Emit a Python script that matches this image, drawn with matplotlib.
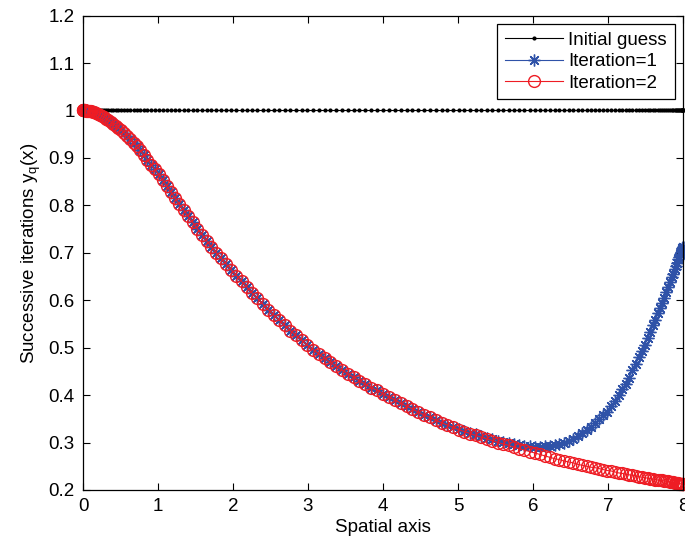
import numpy as np
import matplotlib
matplotlib.use('Agg')
import matplotlib.pyplot as plt
from matplotlib.ticker import FormatStrFormatter

plt.rcParams['font.family'] = ['Liberation Sans', 'DejaVu Sans']

# collocation nodes on [0, 8] (clustered at both ends)
x_nodes = [0.000, 0.001, 0.003, 0.007, 0.012, 0.019, 0.028, 0.038, 0.049, 0.062,
           0.077, 0.093, 0.111, 0.130, 0.150, 0.172, 0.196, 0.221, 0.247, 0.275,
           0.304, 0.335, 0.367, 0.401, 0.436, 0.472, 0.510, 0.549, 0.589, 0.631,
           0.674, 0.718, 0.764, 0.811, 0.859, 0.908, 0.958, 1.010, 1.063, 1.117,
           1.172, 1.228, 1.285, 1.343, 1.402, 1.462, 1.524, 1.586, 1.649, 1.713,
           1.778, 1.844, 1.910, 1.977, 2.046, 2.114, 2.184, 2.254, 2.325, 2.397,
           2.469, 2.542, 2.616, 2.690, 2.764, 2.839, 2.914, 2.990, 3.066, 3.143,
           3.220, 3.297, 3.374, 3.452, 3.530, 3.608, 3.686, 3.765, 3.843, 3.922,
           4.000, 4.078, 4.157, 4.235, 4.314, 4.392, 4.470, 4.548, 4.626, 4.703,
           4.780, 4.857, 4.934, 5.010, 5.086, 5.161, 5.236, 5.310, 5.384, 5.458,
           5.531, 5.603, 5.675, 5.746, 5.816, 5.886, 5.954, 6.023, 6.090, 6.156,
           6.222, 6.287, 6.351, 6.414, 6.476, 6.538, 6.598, 6.657, 6.715, 6.772,
           6.828, 6.883, 6.937, 6.990, 7.042, 7.092, 7.141, 7.189, 7.236, 7.282,
           7.326, 7.369, 7.411, 7.451, 7.490, 7.528, 7.564, 7.599, 7.633, 7.665,
           7.696, 7.725, 7.753, 7.779, 7.804, 7.828, 7.850, 7.870, 7.889, 7.907,
           7.923, 7.938, 7.951, 7.962, 7.972, 7.981, 7.988, 7.993, 7.997, 7.999,
           8.000]

# second iterate
iter2_y = [1.000, 1.000, 1.000, 1.000, 1.000, 1.000, 1.000, 0.999, 0.999, 0.999,
           0.999, 0.998, 0.998, 0.997, 0.996, 0.995, 0.993, 0.991, 0.989, 0.986,
           0.983, 0.980, 0.976, 0.972, 0.968, 0.964, 0.959, 0.953, 0.947, 0.940,
           0.932, 0.924, 0.916, 0.906, 0.896, 0.886, 0.876, 0.865, 0.853, 0.840,
           0.828, 0.815, 0.802, 0.790, 0.777, 0.764, 0.751, 0.738, 0.725, 0.712,
           0.700, 0.688, 0.676, 0.664, 0.652, 0.640, 0.628, 0.615, 0.604, 0.592,
           0.580, 0.569, 0.558, 0.547, 0.536, 0.526, 0.516, 0.505, 0.496, 0.487,
           0.478, 0.469, 0.461, 0.453, 0.445, 0.438, 0.430, 0.423, 0.416, 0.410,
           0.403, 0.396, 0.390, 0.383, 0.377, 0.371, 0.364, 0.358, 0.353, 0.347,
           0.342, 0.337, 0.332, 0.327, 0.323, 0.319, 0.315, 0.311, 0.308, 0.304,
           0.300, 0.297, 0.294, 0.290, 0.287, 0.284, 0.281, 0.278, 0.275, 0.272,
           0.269, 0.266, 0.264, 0.261, 0.259, 0.257, 0.254, 0.252, 0.250, 0.248,
           0.247, 0.245, 0.243, 0.241, 0.240, 0.238, 0.236, 0.235, 0.233, 0.232,
           0.231, 0.230, 0.228, 0.227, 0.226, 0.225, 0.224, 0.223, 0.222, 0.221,
           0.221, 0.220, 0.219, 0.218, 0.218, 0.217, 0.216, 0.216, 0.215, 0.215,
           0.214, 0.214, 0.213, 0.213, 0.213, 0.213, 0.212, 0.212, 0.212, 0.212,
           0.212]

# first iterate: same as the second one up to x~5, then it turns up
iter1_tail = [0.328, 0.325, 0.321, 0.317, 0.313, 0.310, 0.307, 0.304, 0.301, 0.299,
              0.296, 0.295, 0.293, 0.292, 0.291, 0.291, 0.292, 0.292, 0.294, 0.297,
              0.300, 0.303, 0.308, 0.314, 0.320, 0.326, 0.332, 0.341, 0.349, 0.357,
              0.365, 0.376, 0.388, 0.400, 0.412, 0.424, 0.437, 0.452, 0.466, 0.480,
              0.493, 0.506, 0.520, 0.533, 0.547, 0.559, 0.572, 0.583, 0.594, 0.605,
              0.617, 0.628, 0.638, 0.648, 0.656, 0.665, 0.672, 0.679, 0.686, 0.692,
              0.697, 0.701, 0.705, 0.708, 0.710, 0.712, 0.713, 0.713]
iter1_y = iter2_y[:len(x_nodes) - len(iter1_tail)] + iter1_tail

# initial guess y = 1
guess_y = [1.0] * len(x_nodes)

fig = plt.figure(figsize=(6.85, 5.44), dpi=100)
ax = fig.add_axes([0.1212, 0.0993, 0.8759, 0.8721])

ax.plot(x_nodes, guess_y, '-', color='k', lw=0.8, marker='o', ms=3.0, mew=0,
        label='Initial guess', clip_on=False)
ax.plot(x_nodes, iter1_y, '-', color='#2f52a8', lw=0.8, marker=(8, 2, 0), ms=8.5, mew=1.0,
        label='Iteration=1', clip_on=False)
ax.plot(x_nodes, iter2_y, '-', color='#ee1c24', lw=0.8, marker='o', ms=8.5, mew=1.0,
        mfc='none', label='Iteration=2', clip_on=False)

ax.set_xlim(0, 8)
ax.set_ylim(0.2, 1.2)
ax.set_xticks(np.arange(0, 9, 1))
ax.set_yticks(np.arange(0.2, 1.21, 0.1))
ax.yaxis.set_major_formatter(FormatStrFormatter('%g'))
ax.tick_params(direction='in', top=True, right=True, length=5, width=0.8,
               labelsize=13.5, pad=6)
for s in ax.spines.values():
    s.set_linewidth(0.9)

ax.set_xlabel('Spatial axis', fontsize=13.5, labelpad=3)
ax.set_ylabel('Successive iterations y$_{\\mathregular{q}}$(x)', fontsize=13.5, labelpad=4)

leg = ax.legend(loc='upper right', fontsize=13.5, fancybox=False, framealpha=1,
                edgecolor='k', handlelength=3.1, handletextpad=0.3, borderpad=0.4,
                labelspacing=0.24, borderaxespad=0.45)
leg.get_frame().set_linewidth(0.9)

fig.savefig('out.png', dpi=100)
